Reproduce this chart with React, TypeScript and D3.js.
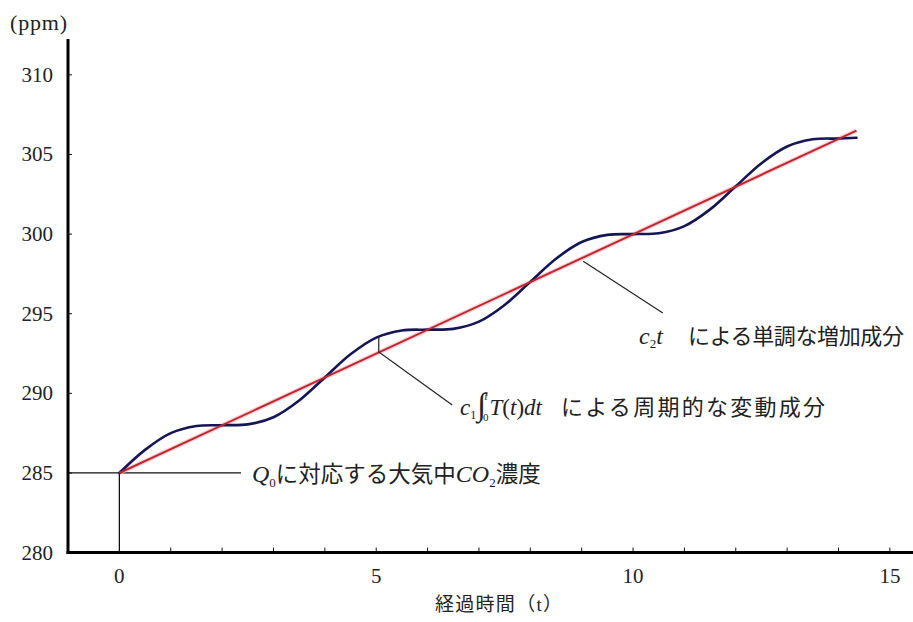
import React from 'react';
import * as d3 from 'd3';

// time (t) and CO2 concentration
const tValues = [0, 0.5, 1, 1.5, 2, 2.5, 3, 3.5, 4, 4.5, 5, 5.5, 6, 6.5, 7, 7.5, 8, 8.5, 9, 9.5, 10, 10.5, 11, 11.5, 12, 12.5, 13, 13.5, 14, 14.35];
const co2Values = [285, 286.45, 287.5, 287.95, 288, 288.05, 288.5, 289.55, 291, 292.45, 293.5, 293.95, 294, 294.05, 294.5, 295.55, 297, 298.45, 299.5, 299.95, 300, 300.05, 300.5, 301.55, 303, 304.45, 305.5, 305.95, 306, 306.05];

// monotone trend (c2 t)
const trendT = [0, 14.35];
const trendValues = [285, 306.5];

const yTicks = [280, 285, 290, 295, 300, 305, 310];
const xTickLabels = [0, 5, 10, 15];
const xMinorTicks = [1, 2, 3, 4, 5, 6, 7, 8, 9, 10, 11, 12, 13, 14, 15];

const W = 913;
const H = 622;
const serif = { fontFamily: 'Liberation Serif, DejaVu Serif, serif' };
const jp = { fontFamily: 'Liberation Serif, Noto Sans CJK JP, serif' };

const App = () => {
    const x = d3.scaleLinear().domain([-1, 15.45]).range([68, 913]);
    const y = d3.scaleLinear().domain([280, 312.25]).range([552.6, 39]);

    const curve = d3.line<number>()
        .x((d, i) => x(tValues[i]))
        .y(d => y(d))
        .curve(d3.curveCatmullRom.alpha(0.5));

    const trend = d3.line<number>()
        .x((d, i) => x(trendT[i]))
        .y(d => y(d));

    const axisY = y(280);

    // leader for the periodic component
    const l1t = 5.05;
    const l1a = [x(l1t), y(293.6)];
    const l1b = [x(l1t), y(292.6)];
    const l1c = [x(6.48), y(289.27)];
    // leader for the trend component
    const l2a = [x(9.03), y(298.3)];
    const l2b = [x(10.58), y(295.05)];

    return (
        <svg width={W} height={H} style={{ position: 'absolute', left: 0, top: 0, background: '#fff' }}>
            {/* axis title */}
            <text x={10} y={30} style={serif} fontSize={22} textLength={57} fill="#222">(ppm)</text>

            {/* y ticks */}
            {yTicks.map(v => (
                <g key={v}>
                    {v > 280 && <line x1={68} x2={72} y1={y(v)} y2={y(v)} stroke="#111" strokeWidth={1} />}
                    <text x={53} y={y(v) + 7} textAnchor="end" style={serif} fontSize={21} fill="#222">{v}</text>
                </g>
            ))}

            {/* x minor ticks */}
            {xMinorTicks.map(v => (
                <line key={v} x1={x(v)} x2={x(v)} y1={axisY} y2={axisY - 5} stroke="#111" strokeWidth={1} />
            ))}
            {xTickLabels.map(v => (
                <text key={v} x={x(v)} y={axisY + 30} textAnchor="middle" style={serif} fontSize={21} fill="#222">{v}</text>
            ))}

            {/* Q0 guide lines */}
            <line x1={68} x2={241} y1={y(285)} y2={y(285)} stroke="#111" strokeWidth={1.3} />
            <line x1={x(0)} x2={x(0)} y1={y(285)} y2={axisY} stroke="#111" strokeWidth={1.3} />

            {/* axes */}
            <line x1={68} x2={68} y1={39} y2={axisY + 1.5} stroke="#000" strokeWidth={3} />
            <line x1={66.5} x2={913} y1={axisY} y2={axisY} stroke="#000" strokeWidth={3} />

            {/* curves */}
            <path d={trend(trendValues) || ''} fill="none" stroke="#f2b3bd" strokeWidth={4.5} strokeOpacity={0.6} />
            <path d={curve(co2Values) || ''} fill="none" stroke="#161655" strokeWidth={2.6} strokeLinecap="round" />
            <path d={trend(trendValues) || ''} fill="none" stroke="#c3262e" strokeWidth={2} />

            {/* leaders */}
            <polyline points={[l1a, l1b, l1c].map(p => p.join(',')).join(' ')} fill="none" stroke="#222" strokeWidth={1.2} />
            <line x1={l2a[0]} y1={l2a[1]} x2={l2b[0]} y2={l2b[1]} stroke="#222" strokeWidth={1.2} />

            {/* annotation: Q0 */}
            <text x={252} y={482} style={jp} fontSize={22.5} fill="#222">
                <tspan fontStyle="italic" fontSize={24}>Q</tspan>
                <tspan fontSize={13} dy={5}>0</tspan>
                <tspan dy={-5}>に対応する大気中</tspan>
                <tspan fontStyle="italic" fontSize={24}>CO</tspan>
                <tspan fontSize={13} dy={5}>2</tspan>
                <tspan dy={-5}>濃度</tspan>
            </text>

            {/* annotation: periodic component */}
            <text x={460} y={415} style={serif} fontSize={23} fill="#222">
                <tspan fontStyle="italic">c</tspan>
                <tspan fontSize={12} dy={4}>1</tspan>
                <tspan dy={-4} dx={1} fontSize={32}>∫</tspan>
                <tspan fontSize={11} dx={-3} dy={6}>0</tspan>
                <tspan fontSize={11} fontStyle="italic" dx={-4} dy={-21}>t</tspan>
                <tspan fontStyle="italic" dx={2} dy={15}>T</tspan>
                <tspan>(</tspan>
                <tspan fontStyle="italic">t</tspan>
                <tspan>)</tspan>
                <tspan fontStyle="italic">dt</tspan>
            </text>
            <text x={561} y={415} style={jp} fontSize={22} textLength={264} fill="#222">による周期的な変動成分</text>

            {/* annotation: trend component */}
            <text x={639} y={344} style={serif} fontSize={24} fill="#222">
                <tspan fontStyle="italic">c</tspan>
                <tspan fontSize={13} dy={4}>2</tspan>
                <tspan fontStyle="italic" dy={-4}>t</tspan>
            </text>
            <text x={688} y={344} style={jp} fontSize={22} textLength={216} fill="#222">による単調な増加成分</text>

            {/* x axis title */}
            <text x={435} y={611} style={jp} fontSize={19} textLength={127} fill="#222">経過時間（t）</text>
        </svg>
    );
};

export default App;
